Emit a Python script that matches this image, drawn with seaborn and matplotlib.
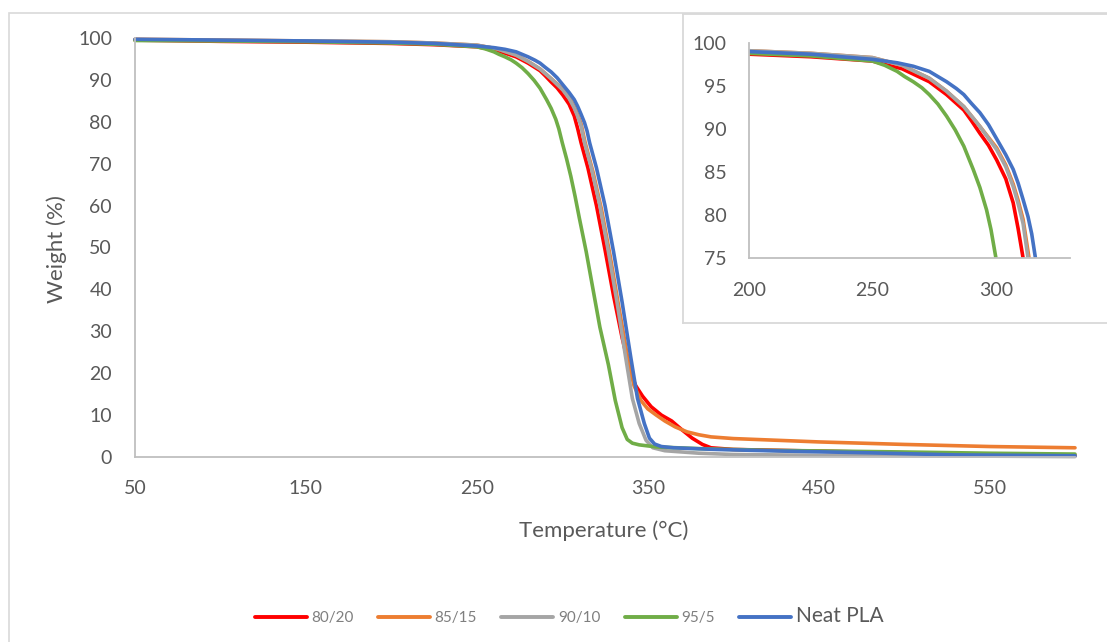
import numpy as np
import pandas as pd
import seaborn as sns
import matplotlib.pyplot as plt
from matplotlib.lines import Line2D
from matplotlib.patches import Rectangle

# ---------------- data ----------------
names = ["80/20", "85/15", "90/10", "95/5", "Neat PLA"]
colors = ["#FF0000", "#ED7D31", "#A5A5A5", "#70AD47", "#4472C4"]

T_8020 = [50, 100, 150, 200, 225, 250, 262, 273, 280, 287, 290, 293.5, 297, 300.3, 304, 307, 309, 311,
          315, 320, 325, 330, 335, 340, 343, 347, 352, 358, 364, 370, 376, 382, 387, 400, 450, 500, 550, 600]
W_8020 = [99.5, 99.2, 99.0, 98.7, 98.4, 97.9, 97.0, 95.5, 94.0, 92.2, 91.0, 89.5, 88.1, 86.4, 84.2, 81.4,
          78.4, 75.0, 69.0, 60.0, 49.5, 38.5, 28.5, 20.0, 17.0, 14.5, 12.0, 10.0, 8.6, 6.5, 4.5, 3.0, 2.2,
          1.8, 1.4, 1.0, 0.6, 0.4]

T_8515 = [50, 100, 150, 200, 225, 250, 262, 273, 280, 287, 293.5, 300.3, 304, 307, 309, 311, 313.4, 318,
          323, 328, 333, 339, 342, 346, 350, 355, 360, 366, 373, 380, 387, 400, 425, 450, 500, 550, 600]
W_8515 = [99.7, 99.5, 99.3, 99.1, 98.8, 98.3, 97.4, 95.9, 94.4, 92.6, 90.3, 87.8, 85.8, 83.6, 81.7, 79.5,
          75.0, 68.0, 59.0, 48.0, 36.0, 22.0, 17.0, 13.5, 11.5, 10.0, 8.6, 7.2, 6.0, 5.3, 4.8, 4.4, 4.0,
          3.6, 3.0, 2.5, 2.2]

T_9010 = [50, 100, 150, 200, 225, 250, 262, 273, 280, 287, 293.5, 300.3, 304, 307, 309, 311, 313, 317,
          322, 327, 332, 337, 341, 345, 349, 353, 360, 380, 400, 450, 500, 550, 600]
W_9010 = [99.6, 99.4, 99.3, 99.1, 98.8, 98.3, 97.4, 95.9, 94.4, 92.6, 90.3, 87.6, 85.6, 83.3, 81.3, 79.0,
          75.0, 69.0, 60.0, 49.0, 37.0, 24.0, 14.0, 8.0, 4.0, 2.2, 1.5, 0.9, 0.6, 0.4, 0.3, 0.2, 0.1]

T_955 = [50, 100, 150, 200, 225, 250, 255, 260, 263, 266.5, 270, 273, 276.5, 280, 283.5, 287, 290.8,
         293.5, 296.2, 298, 300, 302.5, 305, 307.5, 310, 314, 318, 322, 327, 331, 335, 338, 341, 345, 355,
         380, 420, 500, 550, 600]
W_955 = [99.4, 99.3, 99.1, 98.8, 98.5, 97.9, 97.4, 96.7, 96.1, 95.5, 94.8, 94.0, 92.9, 91.5, 89.9, 88.0,
         85.3, 83.2, 80.6, 78.3, 75.0, 71.2, 67.0, 62.2, 57.0, 49.0, 40.0, 31.0, 22.0, 13.5, 7.0, 4.2, 3.3,
         2.9, 2.4, 2.0, 1.6, 1.2, 0.9, 0.7]

T_PLA = [50, 100, 150, 200, 225, 250, 260, 266.5, 273, 280, 284, 287, 290, 293.5, 297, 300, 304, 307, 309,
         311, 313, 314.5, 316, 320, 325, 330, 335, 340, 344, 348, 351, 354, 358, 365, 390, 430, 480, 530, 600]
W_PLA = [99.7, 99.5, 99.3, 99.0, 98.7, 98.1, 97.7, 97.3, 96.7, 95.5, 94.7, 94.0, 93.0, 91.9, 90.5, 89.0,
         87.0, 85.3, 83.7, 81.8, 79.8, 77.8, 75.0, 69.0, 60.0, 49.0, 37.0, 24.0, 14.0, 8.0, 4.5, 3.1, 2.5,
         2.2, 1.8, 1.4, 1.0, 0.5, 0.3]

x_ticks = [50, 150, 250, 350, 450, 550]
y_ticks = [0, 10, 20, 30, 40, 50, 60, 70, 80, 90, 100]
inset_x_ticks = [200, 250, 300]
inset_y_ticks = [75, 80, 85, 90, 95, 100]

series = [(names[0], T_8020, W_8020), (names[1], T_8515, W_8515), (names[2], T_9010, W_9010),
          (names[3], T_955, W_955), (names[4], T_PLA, W_PLA)]
df = pd.concat([pd.DataFrame({"Temperature": t, "Weight": w, "Sample": n}) for n, t, w in series],
               ignore_index=True)
palette = dict(zip(names, colors))

# ---------------- style ----------------
sns.set_theme(style="white")
plt.rcParams["font.family"] = ["Lato", "DejaVu Sans"]
TXT = "#595959"
AX = "#bfbfbf"

W_PX, H_PX = 1107, 642
fig = plt.figure(figsize=(W_PX / 100, H_PX / 100), dpi=100)

# chart-area border
fig.patches.append(Rectangle((9 / W_PX, -0.1), 1.2, 1 - 13 / H_PX + 0.1, transform=fig.transFigure,
                             fill=False, ec="#d9d9d9", lw=1.2, zorder=0))

# ---------------- main axes ----------------
ax = fig.add_axes([135 / W_PX, 1 - 457 / H_PX, 940 / W_PX, 419 / H_PX])
sns.lineplot(data=df, x="Temperature", y="Weight", hue="Sample", hue_order=names, palette=palette,
             estimator=None, sort=False, lw=2.6, ax=ax, legend=False)
for ln in ax.lines:
    ln.set_clip_on(False)
    ln.set_solid_capstyle("round")
    ln.set_solid_joinstyle("round")
ax.set_xlim(50, 600)
ax.set_ylim(0, 100)
ax.set_xticks(x_ticks)
ax.set_yticks(y_ticks)
ax.tick_params(axis="both", length=0, labelsize=14, labelcolor=TXT)
ax.tick_params(axis="x", pad=16.5)
ax.tick_params(axis="y", pad=16.5)
for s in ["top", "right"]:
    ax.spines[s].set_visible(False)
for s in ["left", "bottom"]:
    ax.spines[s].set_color(AX)
    ax.spines[s].set_linewidth(1.3)
ax.set_xlabel("Temperature (°C)", fontsize=16, color=TXT)
ax.set_ylabel("Weight (%)", fontsize=16, color=TXT)
ax.xaxis.set_label_coords(0.499, -0.177)
ax.xaxis.label.set_va("center")
ax.yaxis.set_label_coords(-0.083, 0.496)
ax.yaxis.label.set_va("center")

# ---------------- inset box ----------------
box = fig.add_axes([683 / W_PX, 1 - 323 / H_PX, (W_PX - 683) / W_PX + 0.02, 309 / H_PX])
box.set_facecolor("white")
box.set_xticks([])
box.set_yticks([])
for s in box.spines.values():
    s.set_color("#d9d9d9")
    s.set_linewidth(1.3)
box.set_zorder(5)

ins = fig.add_axes([749 / W_PX, 1 - 258 / H_PX, 321 / W_PX, 215 / H_PX])
ins.set_zorder(6)
ins.patch.set_alpha(0)
sns.lineplot(data=df, x="Temperature", y="Weight", hue="Sample", hue_order=names, palette=palette,
             estimator=None, sort=False, lw=2.6, ax=ins, legend=False)
for ln in ins.lines:
    ln.set_solid_joinstyle("round")
ins.set_xlim(200, 330)
ins.set_ylim(75, 100)
ins.set_xticks(inset_x_ticks)
ins.set_yticks(inset_y_ticks)
ins.tick_params(axis="both", length=0, labelsize=14, labelcolor=TXT)
ins.tick_params(axis="x", pad=17)
ins.tick_params(axis="y", pad=16)
ins.set_xlabel("")
ins.set_ylabel("")
for s in ["top", "right"]:
    ins.spines[s].set_visible(False)
for s in ["left", "bottom"]:
    ins.spines[s].set_color(AX)
    ins.spines[s].set_linewidth(1.3)

# ---------------- legend ----------------
handles = [Line2D([], [], color=c, lw=2.8) for c in colors]
leg = fig.legend(handles, names, loc="center", bbox_to_anchor=(569 / W_PX, 1 - 616 / H_PX), ncol=5,
                 frameon=False, handlelength=3.4, handletextpad=0.3, columnspacing=1.6, fontsize=11)
for i, t in enumerate(leg.get_texts()):
    if i < 4:
        t.set_color("#7f7f7f")
    else:
        t.set_color(TXT)
        t.set_fontsize(15)

fig.savefig("out.png", dpi=100)
